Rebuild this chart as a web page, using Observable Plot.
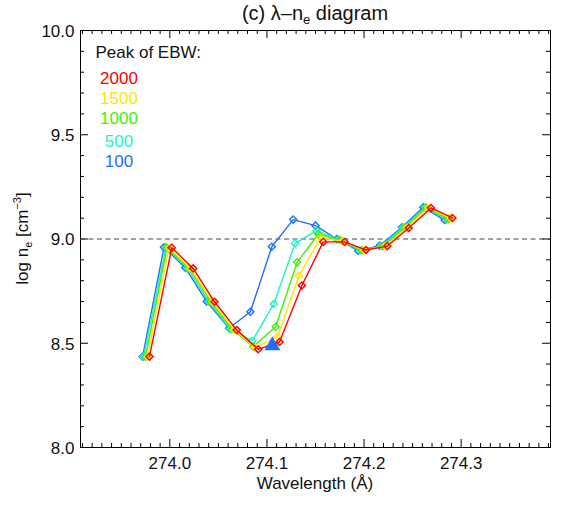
<!DOCTYPE html>
<html>
<head>
<meta charset="utf-8">
<script src="https://cdn.jsdelivr.net/npm/d3@7"></script>
<script src="https://cdn.jsdelivr.net/npm/@observablehq/plot@0.6"></script>
<style>
  html, body { margin: 0; padding: 0; background: #fff; }
  svg { font-family: "Liberation Sans", Arial, Helvetica, sans-serif; }
</style>
</head>
<body>
<div id="chart"></div>
<script>
// ---- Data ----
const seriesNames = ["100", "500", "1000", "1500", "2000"];
const seriesColors = ["#1e6eff", "#1ef2c6", "#3ff000", "#ffe600", "#ff0000"];

const lambda100  = [273.972, 273.994, 274.016, 274.038, 274.061, 274.083, 274.105, 274.127, 274.150, 274.172, 274.194, 274.216, 274.239, 274.261, 274.283];
const lambda500  = [273.973, 273.996, 274.018, 274.040, 274.062, 274.085, 274.107, 274.129, 274.151, 274.174, 274.196, 274.218, 274.240, 274.263, 274.285];
const lambda1000 = [273.975, 273.997, 274.020, 274.042, 274.064, 274.086, 274.109, 274.131, 274.153, 274.176, 274.198, 274.220, 274.242, 274.264, 274.287];
const lambda1500 = [273.977, 273.999, 274.021, 274.044, 274.066, 274.088, 274.111, 274.133, 274.155, 274.178, 274.200, 274.222, 274.244, 274.266, 274.289];
const lambda2000 = [273.979, 274.002, 274.024, 274.046, 274.069, 274.091, 274.113, 274.136, 274.158, 274.180, 274.202, 274.224, 274.246, 274.269, 274.291];

const logNe100  = [8.436, 8.960, 8.862, 8.700, 8.572, 8.651, 8.963, 9.093, 9.064, 9.000, 8.944, 8.968, 9.056, 9.152, 9.091];
const logNe500  = [8.436, 8.959, 8.861, 8.700, 8.569, 8.512, 8.688, 8.979, 9.040, 8.997, 8.945, 8.967, 9.055, 9.151, 9.094];
const logNe1000 = [8.436, 8.959, 8.860, 8.700, 8.567, 8.484, 8.579, 8.888, 9.024, 8.994, 8.946, 8.967, 9.055, 9.150, 9.097];
const logNe1500 = [8.436, 8.958, 8.860, 8.699, 8.565, 8.480, 8.531, 8.824, 9.005, 8.990, 8.946, 8.966, 9.054, 9.150, 9.099];
const logNe2000 = [8.436, 8.958, 8.859, 8.699, 8.563, 8.471, 8.506, 8.777, 8.986, 8.986, 8.947, 8.966, 9.053, 9.149, 9.101];

const triangleLambda = [274.1056];
const triangleLogNe = [8.489];
const refLine = [9.0];

const xTicks = [274.0, 274.1, 274.2, 274.3];
const yTicks = [8.0, 8.5, 9.0, 9.5, 10.0];
const xDomain = [273.908, 274.392];
const yDomain = [8.0, 10.0];

// ---- Build table ----
const lambdas = [lambda100, lambda500, lambda1000, lambda1500, lambda2000];
const values = [logNe100, logNe500, logNe1000, logNe1500, logNe2000];
const rows = [];
seriesNames.forEach((name, i) => {
  lambdas[i].forEach((l, j) => rows.push({series: name, order: i, x: l, y: values[i][j]}));
});
const triangle = triangleLambda.map((l, i) => ({x: l, y: triangleLogNe[i]}));

const W = 578, H = 506;
const mL = 80, mR = 28, mT = 30, mB = 59;
const frameW = W - mL - mR, frameH = H - mT - mB;

const xMinor = d3.range(273.91, 274.395, 0.01).map(v => +v.toFixed(2)).filter(v => !xTicks.some(t => Math.abs(t - v) < 1e-6));
const yMinor = d3.range(8.1, 10.0, 0.1).map(v => +v.toFixed(1)).filter(v => !yTicks.some(t => Math.abs(t - v) < 1e-6));

const font = "Liberation Sans, Arial, Helvetica, sans-serif";

const marks = [
  Plot.frame({stroke: "black", strokeWidth: 1}),
  // inward ticks, all four sides
  Plot.tickX(xTicks, {x: d => d, insetTop: frameH - 8, stroke: "black"}),
  Plot.tickX(xTicks, {x: d => d, insetBottom: frameH - 8, stroke: "black"}),
  Plot.tickX(xMinor, {x: d => d, insetTop: frameH - 4, stroke: "black"}),
  Plot.tickX(xMinor, {x: d => d, insetBottom: frameH - 4, stroke: "black"}),
  Plot.tickY(yTicks, {y: d => d, insetRight: frameW - 8, stroke: "black"}),
  Plot.tickY(yTicks, {y: d => d, insetLeft: frameW - 8, stroke: "black"}),
  Plot.tickY(yMinor, {y: d => d, insetRight: frameW - 4, stroke: "black"}),
  Plot.tickY(yMinor, {y: d => d, insetLeft: frameW - 4, stroke: "black"}),
  Plot.axisX({ticks: xTicks, tickSize: 0, tickPadding: 9, tickFormat: d3.format(".1f"), label: null, fontSize: 17, fill: "#111"}),
  Plot.axisY({ticks: yTicks, tickSize: 0, tickPadding: 6, tickFormat: d3.format(".1f"), label: null, fontSize: 17, fill: "#111", dy: 1}),
  Plot.ruleY(refLine, {stroke: "#444", strokeDasharray: "5,3.5", strokeWidth: 1})
];

seriesNames.forEach((name, i) => {
  const data = rows.filter(r => r.series === name);
  marks.push(Plot.line(data, {x: "x", y: "y", stroke: seriesColors[i], strokeWidth: 1.4}));
  marks.push(Plot.dot(data, {x: "x", y: "y", stroke: seriesColors[i], symbol: "diamond2", r: 3.2, strokeWidth: 1.4, fill: "none"}));
});

marks.push(Plot.dot(triangle, {x: "x", y: "y", symbol: "triangle", r: 5, fill: seriesColors[0], stroke: seriesColors[0]}));

// legend
marks.push(Plot.text(["Peak of EBW:"], {frameAnchor: "top-left", dx: 15, dy: 22.5, textAnchor: "start", lineAnchor: "middle", text: d => d, fontSize: 17, fill: "#111"}));
const legendDy = [131, 111, 88.5, 68.5, 48.5];
seriesNames.forEach((name, i) => {
  marks.push(Plot.text([name], {frameAnchor: "top-left", dx: 38.5, dy: legendDy[i], textAnchor: "middle", lineAnchor: "middle", text: d => d, fontSize: 17, fill: seriesColors[i]}));
});

const chart = Plot.plot({
  width: W, height: H,
  marginLeft: mL, marginRight: mR, marginTop: mT, marginBottom: mB,
  style: {fontFamily: font, background: "white"},
  x: {domain: xDomain},
  y: {domain: yDomain},
  marks
});
document.getElementById("chart").appendChild(chart);

// titles with sub/superscripts
const svg = d3.select(chart);
const title = svg.append("text").attr("x", mL + frameW / 2).attr("y", 20).attr("text-anchor", "middle")
  .attr("font-size", 20).attr("fill", "#111").attr("font-family", font);
title.append("tspan").text("(c) λ–n");
title.append("tspan").attr("dy", 4).attr("font-size", 13).text("e");
title.append("tspan").attr("dy", -4).text(" diagram");

const xl = svg.append("text").attr("x", mL + frameW / 2).attr("y", 489).attr("text-anchor", "middle")
  .attr("font-size", 17).attr("fill", "#111").attr("font-family", font).text("Wavelength (Å)");

const yl = svg.append("text").attr("transform", `translate(28,${mT + frameH / 2}) rotate(-90)`).attr("text-anchor", "middle")
  .attr("font-size", 17).attr("fill", "#111").attr("font-family", font);
yl.append("tspan").text("log n");
yl.append("tspan").attr("dy", 4).attr("font-size", 11).text("e");
yl.append("tspan").attr("dy", -4).text(" [cm");
yl.append("tspan").attr("dy", -7).attr("font-size", 11).text("−3");
yl.append("tspan").attr("dy", 7).text("]");
</script>
</body>
</html>
